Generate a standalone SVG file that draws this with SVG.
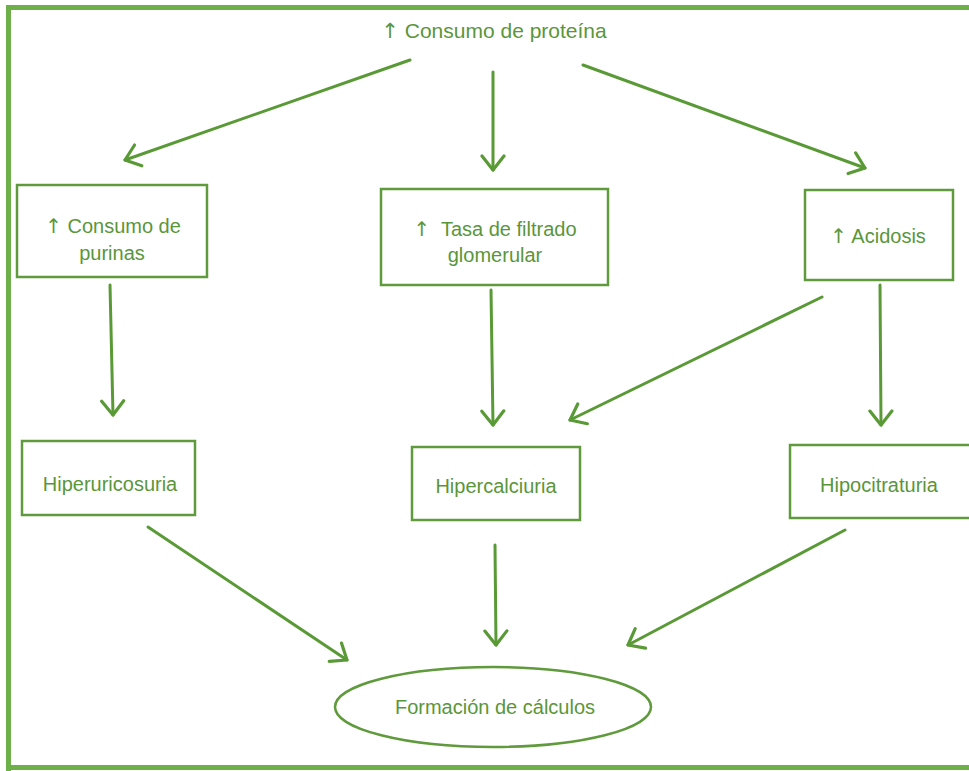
<svg xmlns="http://www.w3.org/2000/svg" width="969" height="771" viewBox="0 0 969 771">
<style>
.box{fill:#fff;stroke:#5f9a3c;stroke-width:2.5}
.t{font-family:"Liberation Sans",Arial,sans-serif;font-size:20px;fill:#5a963a;text-anchor:middle}
.ar{font-family:"DejaVu Sans",sans-serif}
.c{stroke:#5a9a36;stroke-width:3;fill:none;stroke-linecap:round}
.h{stroke:#5a9a36;stroke-width:3.2;fill:none;stroke-linecap:round;stroke-linejoin:round}
</style>
<defs>
<marker id="a" viewBox="-16 -14 18 28" markerWidth="18" markerHeight="28" refX="0" refY="0" orient="auto" markerUnits="userSpaceOnUse">
<path d="M-14,-11 L0,0 L-14,11" class="h"/>
</marker>
</defs>
<rect width="969" height="771" fill="#fff"/>
<g id="frame">
<path d="M8.5,771 V7.5 H969" fill="none" stroke="#6db04a" stroke-width="5"/>
<path d="M6,767.5 H969" fill="none" stroke="#6db04a" stroke-width="5"/>
</g>
<g id="connectors">
<line class="c" x1="410" y1="60" x2="125" y2="160" marker-end="url(#a)"/>
<line class="c" x1="493" y1="72" x2="493" y2="170" marker-end="url(#a)"/>
<line class="c" x1="583" y1="65" x2="865" y2="168" marker-end="url(#a)"/>
<line class="c" x1="110" y1="285" x2="113" y2="415" marker-end="url(#a)"/>
<line class="c" x1="491" y1="290" x2="493" y2="425" marker-end="url(#a)"/>
<line class="c" x1="822" y1="297" x2="570" y2="420" marker-end="url(#a)"/>
<line class="c" x1="880" y1="285" x2="881" y2="425" marker-end="url(#a)"/>
<line class="c" x1="148" y1="527" x2="347" y2="660" marker-end="url(#a)"/>
<line class="c" x1="495" y1="545" x2="496" y2="645" marker-end="url(#a)"/>
<line class="c" x1="845" y1="530" x2="628" y2="645" marker-end="url(#a)"/>
</g>
<g id="top"><text class="t" x="494" y="38" style="font-size:21px"><tspan class="ar">↑</tspan> Consumo de proteína</text></g>
<g id="purinas"><rect class="box" x="17" y="185" width="190" height="92"/><text class="t" x="113" y="233"><tspan class="ar">↑</tspan> Consumo de</text><text class="t" x="112" y="260">purinas</text></g>
<g id="tasa"><rect class="box" x="381" y="189" width="227" height="96"/><text class="t" x="495" y="236" xml:space="preserve"><tspan class="ar">↑</tspan>  Tasa de filtrado</text><text class="t" x="495" y="262">glomerular</text></g>
<g id="acidosis"><rect class="box" x="805" y="190" width="148" height="90"/><text class="t" x="878" y="243"><tspan class="ar">↑</tspan> Acidosis</text></g>
<g id="hiperuricosuria"><rect class="box" x="22" y="441" width="173" height="74"/><text class="t" x="110" y="491">Hiperuricosuria</text></g>
<g id="hipercalciuria"><rect class="box" x="412" y="447" width="168" height="73"/><text class="t" x="496" y="493">Hipercalciuria</text></g>
<g id="hipocitraturia"><rect class="box" x="790" y="445" width="185" height="73"/><text class="t" x="879" y="492">Hipocitraturia</text></g>
<g id="formacion"><ellipse class="box" cx="493" cy="707" rx="158" ry="40"/><text class="t" x="495" y="714">Formación de cálculos</text></g>
</svg>
